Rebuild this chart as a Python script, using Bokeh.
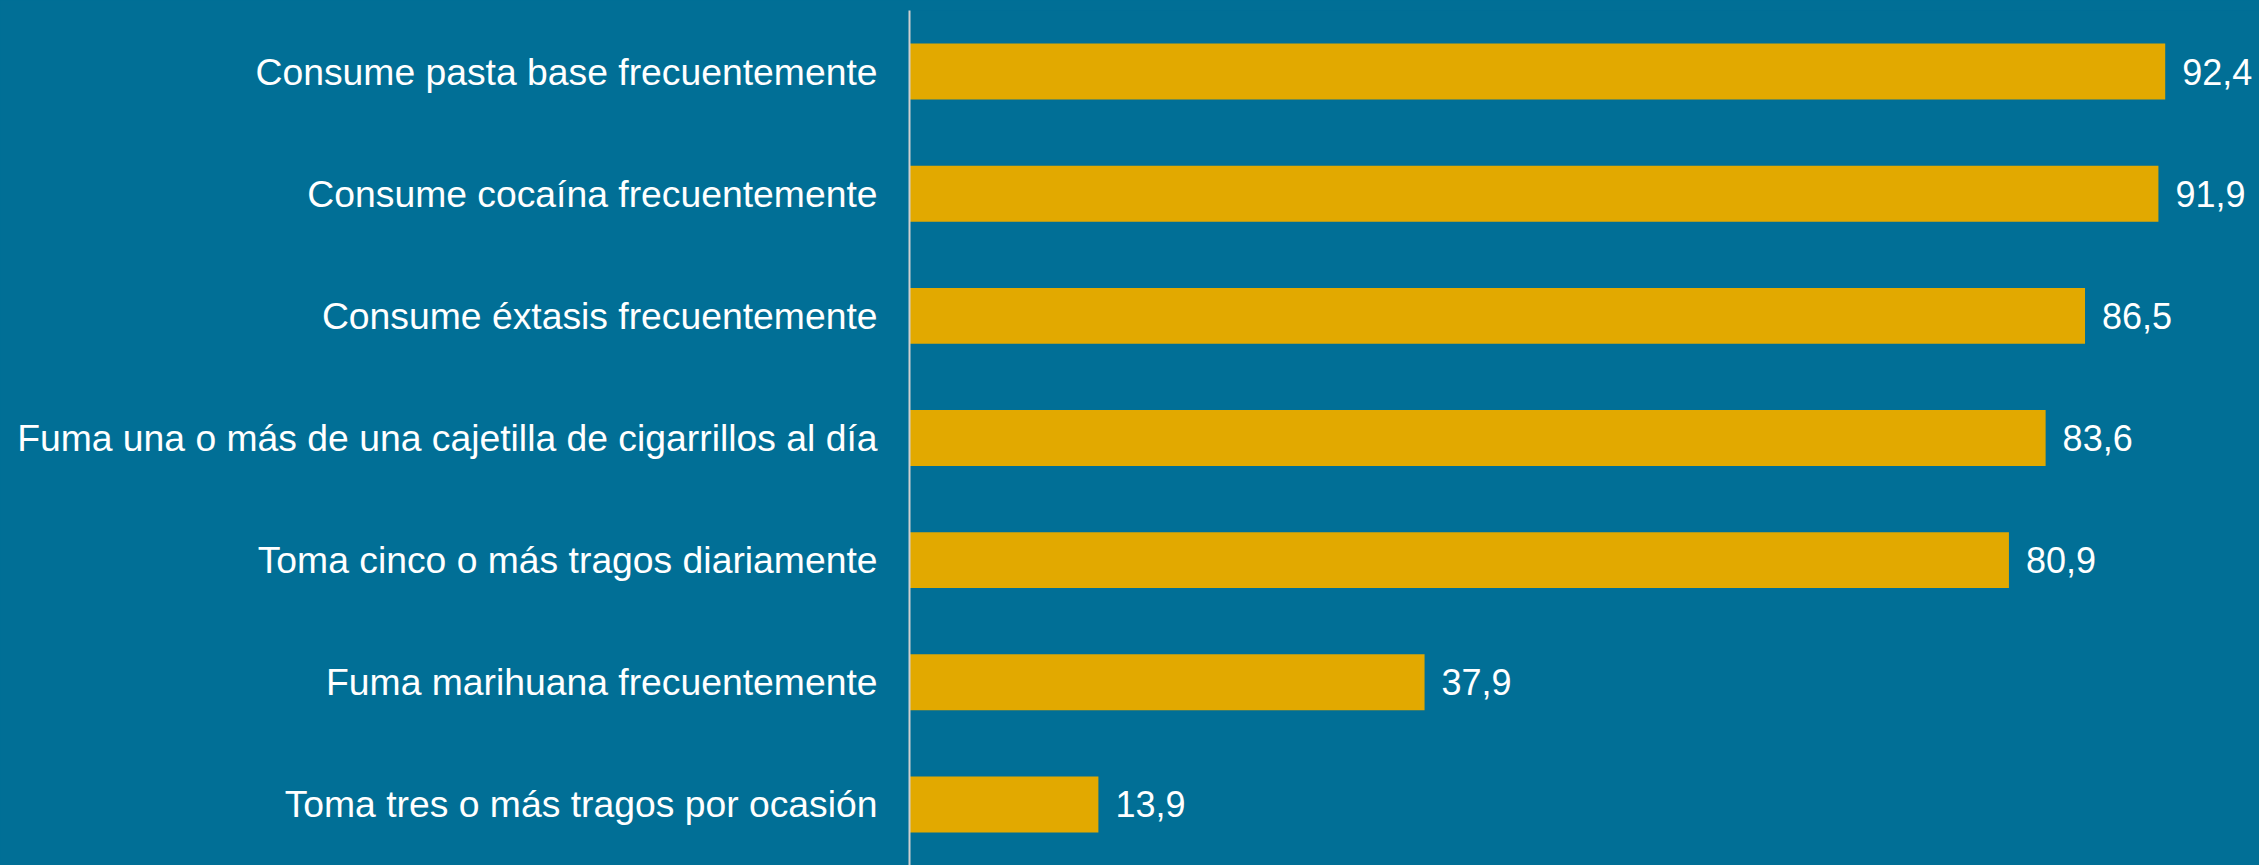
from bokeh.plotting import figure
from bokeh.models import ColumnDataSource, Range1d, FactorRange
from bokeh.embed import file_html
from bokeh.resources import INLINE
from bokeh.core.properties import value

categories = [
    "Consume pasta base frecuentemente",
    "Consume cocaína frecuentemente",
    "Consume éxtasis frecuentemente",
    "Fuma una o más de una cajetilla de cigarrillos al día",
    "Toma cinco o más tragos diariamente",
    "Fuma marihuana frecuentemente",
    "Toma tres o más tragos por ocasión",
]
values = [92.4, 91.9, 86.5, 83.6, 80.9, 37.9, 13.9]
value_labels = [f"{v:.1f}".replace(".", ",") for v in values]

BG = "#016F96"
BAR = "#E2A900"

src = ColumnDataSource(dict(cat=categories, val=values, lab=value_labels))

p = figure(
    width=2259, height=865,
    y_range=FactorRange(factors=list(reversed(categories))),
    x_range=Range1d(0, 1350 / 13.59),
    output_backend="svg", toolbar_location=None,
    background_fill_color=BG, background_fill_alpha=0,
    border_fill_color=BG,
    min_border_left=909, min_border_right=0, min_border_top=10, min_border_bottom=0,
)
p.outline_line_color = None
p.grid.visible = False
p.xaxis.visible = False

p.hbar(y="cat", right="val", left=0, height=0.458, source=src,
       fill_color=BAR, line_color=None)

p.text(x="val", y="cat", text="lab", source=src,
       x_offset=17, text_baseline="middle", text_align="left",
       text_color="white", text_font=value("Liberation Sans"),
       text_font_size="36px")

ya = p.yaxis[0]
ya.axis_line_color = "#CFCFCF"
ya.axis_line_width = 2
ya.major_tick_line_color = None
ya.minor_tick_line_color = None
ya.major_label_text_color = "white"
ya.major_label_text_font = "Liberation Sans"
ya.major_label_text_font_size = "37.3px"
ya.major_label_standoff = 26

template = "{% block preamble %}<style>html, body { background: " + BG + "; }</style>{% endblock %}"

open("out.html", "w").write(file_html(p, INLINE, template=template))
